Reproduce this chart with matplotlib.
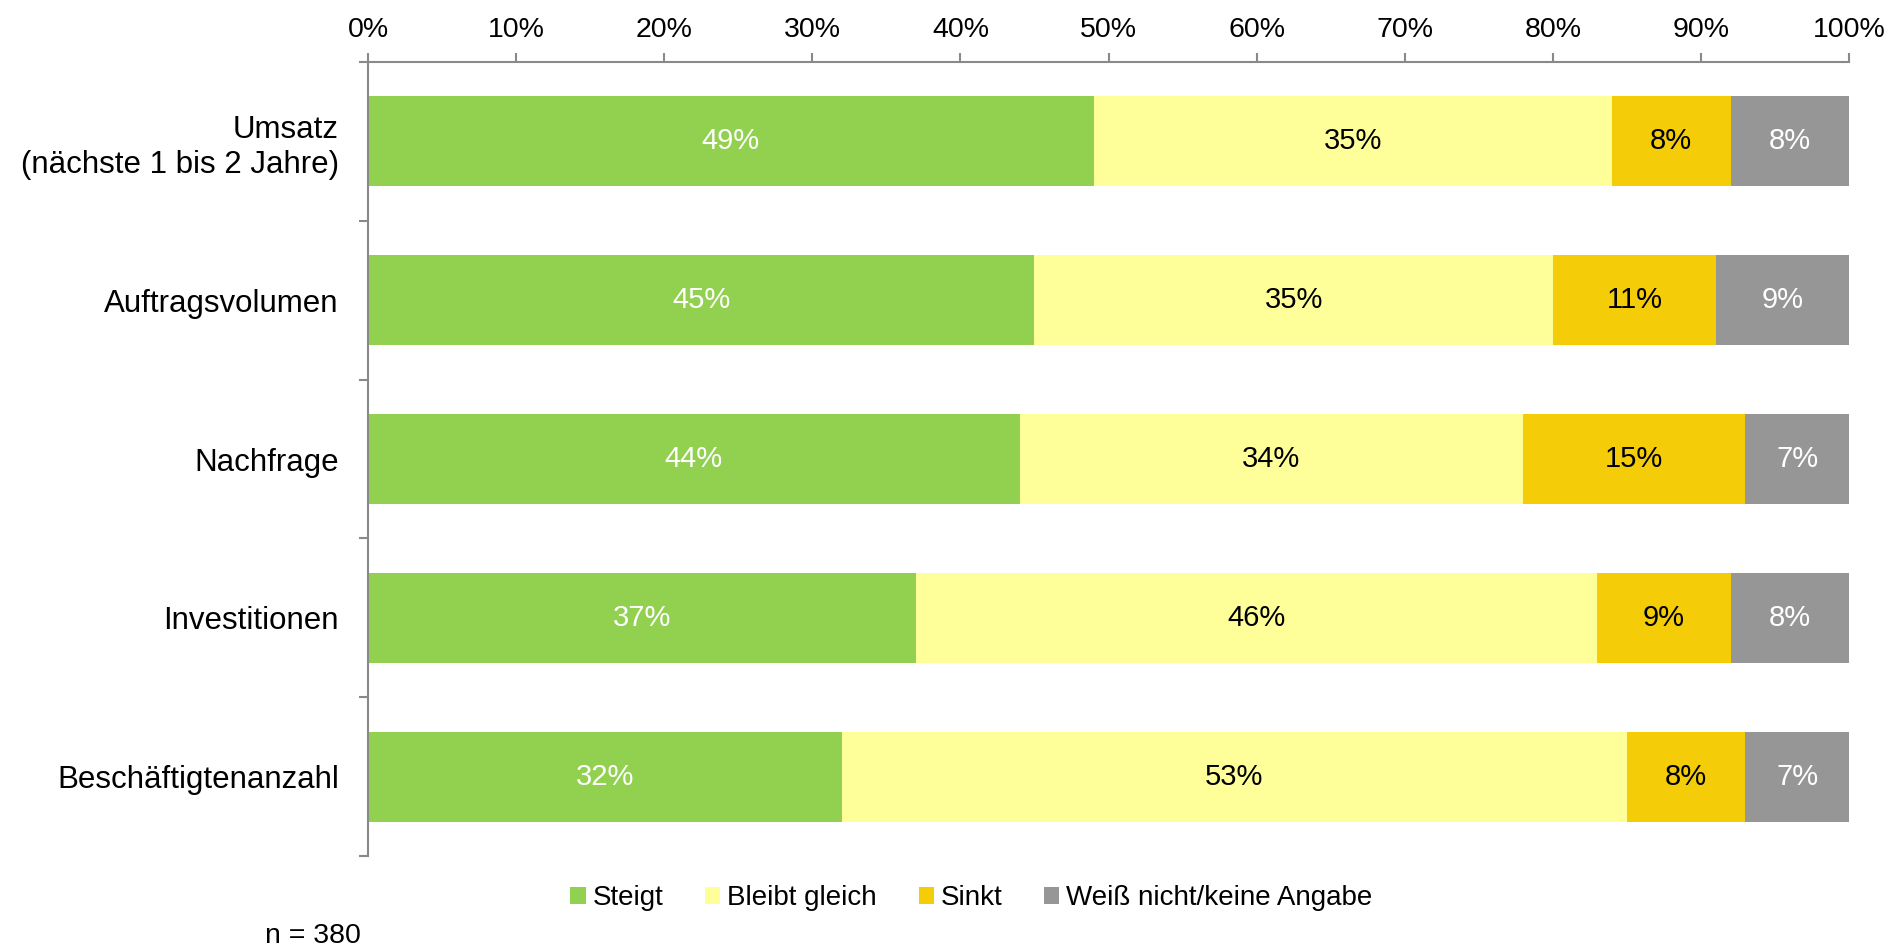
import matplotlib
matplotlib.use("Agg")
import matplotlib.pyplot as plt
from matplotlib.patches import Patch
import numpy as np

plt.rcParams['font.family'] = ['Liberation Sans', 'DejaVu Sans']

categories = ["Umsatz\n(nächste 1 bis 2 Jahre)", "Auftragsvolumen", "Nachfrage",
              "Investitionen", "Beschäftigtenanzahl"]
steigt = [49, 45, 44, 37, 32]
bleibt = [35, 35, 34, 46, 53]
sinkt = [8, 11, 15, 9, 8]
weiss = [8, 9, 7, 8, 7]
series_names = ["Steigt", "Bleibt gleich", "Sinkt", "Weiß nicht/keine Angabe"]
colors = ["#92D050", "#FFFF99", "#F4CC07", "#969696"]
text_colors = ["white", "black", "black", "white"]
xticks = [0, 10, 20, 30, 40, 50, 60, 70, 80, 90, 100]
note = "n = 380"

W, H = 1891, 949
fig = plt.figure(figsize=(W / 100, H / 100), dpi=100)
ax = fig.add_axes([368 / W, 1 - 856 / H, (1849 - 368) / W, (856 - 62) / H])

y = np.arange(len(categories))
left = np.zeros(len(categories))
for vals, col, tcol in zip([steigt, bleibt, sinkt, weiss], colors, text_colors):
    vals = np.array(vals, dtype=float)
    ax.barh(y, vals, left=left, height=0.567, color=col, edgecolor='none')
    for yi, l, v in zip(y, left, vals):
        ax.text(l + v / 2, yi, f"{int(v)}%", ha='center', va='center',
                fontsize=21, color=tcol)
    left += vals

ax.set_xlim(0, 100)
ax.set_ylim(len(categories) - 0.5, -0.5)
ax.xaxis.tick_top()
ax.set_xticks(xticks)
ax.set_xticklabels([f"{t}%" for t in xticks], fontsize=20.5)
ax.tick_params(axis='x', length=6.5, width=1.5, color='#898989', pad=7.5)

ax.set_yticks(y)
ax.set_yticklabels(categories, fontsize=22.5, linespacing=1.2)
ax.set_yticks(np.arange(-0.5, len(categories)), minor=True)
ax.tick_params(axis='y', which='major', length=0, pad=21)
ax.tick_params(axis='y', which='minor', length=6.5, width=1.5, color='#898989')

for s in ['right', 'bottom']:
    ax.spines[s].set_visible(False)
for s in ['left', 'top']:
    ax.spines[s].set_color('#898989')
    ax.spines[s].set_linewidth(1.5)

handles = [Patch(facecolor=c, edgecolor='none') for c in colors]
fig.legend(handles, series_names, loc='center', bbox_to_anchor=(971.5 / W, 1 - 898 / H),
           ncol=4, frameon=False, fontsize=20, handlelength=0.55, handleheight=0.55,
           handletextpad=0.25, columnspacing=1.5, borderpad=0, borderaxespad=0)

fig.text(265 / W, 1 - 936 / H, note, fontsize=20.5, ha='left', va='center')

fig.savefig("out.png", dpi=100)
